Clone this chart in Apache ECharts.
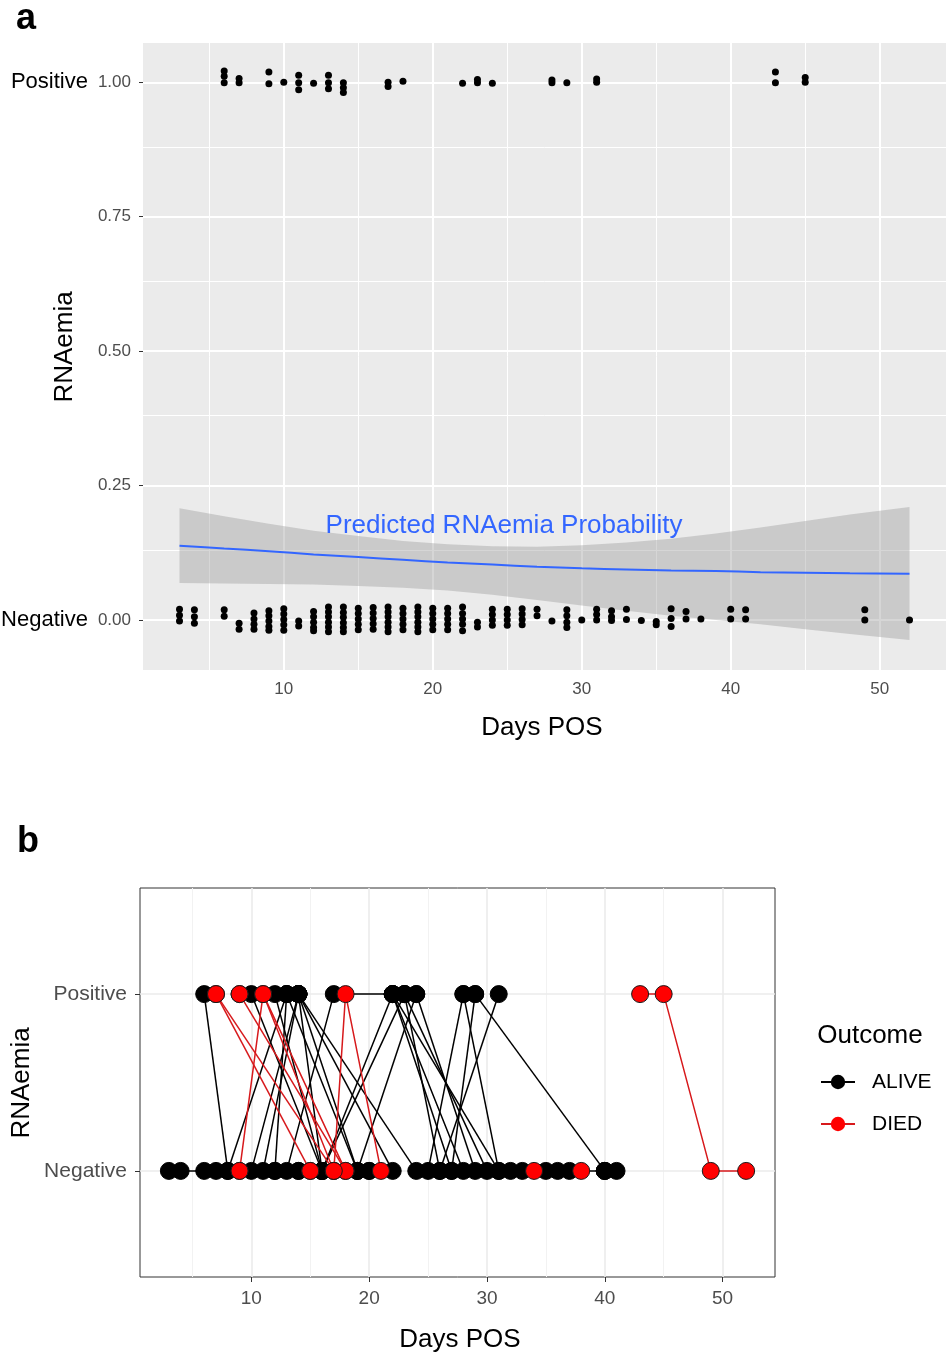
<!DOCTYPE html>
<html><head><meta charset="utf-8">
<script src="https://cdn.jsdelivr.net/npm/echarts@6/dist/echarts.min.js"></script>
<style>html,body{margin:0;padding:0;background:#fff}#c{width:949px;height:1358px}</style>
</head><body><div id="c"></div>
<script>
// ---------- Panel a: jittered observations ----------
const positiveObs = [[6,1.021],[6,1.011],[6,0.999],[7,1.007],[7,0.999],[9,1.019],[9,0.997],[10,1.0],
  [11,1.013],[11,0.999],[11,0.986],[12,0.998],[13,1.013],[13,0.999],[13,0.988],[14,0.999],[14,0.99],[14,0.981],
  [17,1.0],[17,0.992],[18,1.002],[22,0.998],[23,1.005],[23,0.999],[24,0.998],[28,1.004],[28,0.999],[29,0.999],
  [31,1.006],[31,1.0],[43,1.019],[43,0.999],[45,1.009],[45,1.0]];
const negativeObs = [
  [3,0.02],[3,0.009],[3,-0.002],[4,0.019],[4,0.006],[4,-0.006],[6,0.019],[6,0.007],[7,-0.006],[7,-0.017],
  [8,0.013],[8,0.002],[8,-0.008],[8,-0.017],[9,0.017],[9,0.008],[9,-0.002],[9,-0.012],[9,-0.019],
  [10,0.021],[10,0.011],[10,0.001],[10,-0.009],[10,-0.019],[11,-0.002],[11,-0.011],
  [12,0.016],[12,0.006],[12,-0.004],[12,-0.014],[12,-0.02],
  [13,0.024],[13,0.015],[13,0.006],[13,-0.004],[13,-0.013],[13,-0.022],
  [14,0.024],[14,0.014],[14,0.005],[14,-0.005],[14,-0.014],[14,-0.022],
  [15,0.022],[15,0.012],[15,0.002],[15,-0.008],[15,-0.018],
  [16,0.023],[16,0.013],[16,0.003],[16,-0.007],[16,-0.017],
  [17,0.024],[17,0.015],[17,0.006],[17,-0.004],[17,-0.013],[17,-0.022],
  [18,0.022],[18,0.012],[18,0.002],[18,-0.008],[18,-0.018],
  [19,0.024],[19,0.015],[19,0.006],[19,-0.004],[19,-0.013],[19,-0.022],
  [20,0.022],[20,0.012],[20,0.002],[20,-0.008],[20,-0.018],
  [21,0.022],[21,0.012],[21,0.002],[21,-0.008],[21,-0.018],
  [22,0.024],[22,0.012],[22,0.002],[22,-0.008],[22,-0.02],[23,-0.004],[23,-0.013],
  [24,0.02],[24,0.01],[24,0.0],[24,-0.01],[25,0.02],[25,0.01],[25,0.0],[25,-0.01],
  [26,0.021],[26,0.011],[26,0.001],[26,-0.009],[27,0.02],[27,0.008],[28,-0.002],
  [29,0.019],[29,0.008],[29,-0.004],[29,-0.014],[30,0.0],[31,0.02],[31,0.01],[31,0.0],
  [32,0.017],[32,0.006],[32,-0.001],[33,0.02],[33,0.001],[34,-0.001],[35,-0.003],[35,-0.009],
  [36,0.021],[36,0.003],[36,-0.012],[37,0.016],[37,0.002],[38,0.002],[40,0.02],[40,0.002],
  [41,0.019],[41,0.002],[49,0.019],[49,0.0],[52,0.0]];

// ---------- Panel a: logistic fit and confidence band ----------
const fitDays   = [3, 6, 9, 12, 15, 18, 21, 24, 27, 30, 33, 36, 39, 42, 45, 48, 52];
const fitProb   = [0.138, 0.133, 0.128, 0.122, 0.117, 0.112, 0.107, 0.103, 0.099, 0.096, 0.094, 0.092, 0.091, 0.089, 0.088, 0.087, 0.086];
const bandUpper = [0.208, 0.193, 0.179, 0.166, 0.156, 0.147, 0.141, 0.137, 0.136, 0.139, 0.144, 0.151, 0.161, 0.172, 0.184, 0.196, 0.210];
const bandLower = [0.069, 0.068, 0.067, 0.066, 0.063, 0.060, 0.055, 0.047, 0.037, 0.027, 0.017, 0.008, 0.000, -0.008, -0.017, -0.026, -0.037];

const xTicks = [10, 20, 30, 40, 50];
const xMinor = [5, 15, 25, 35, 45];
const yTicksA = [0, 0.25, 0.5, 0.75, 1.0];
const yMinorA = [0.125, 0.375, 0.625, 0.875];
const stateLabels = ['Negative', 'Positive'];

// ---------- Panel b: patient trajectories (N = Negative, P = Positive, number = day) ----------
const aliveTraj = [
  ['N3','N6'], ['N4'], ['P6','N8'], ['N7'], ['N8','P13'], ['N10','P14'], ['N11','P14'], ['N12','P13'],
  ['P10','N16'], ['P12','N16'], ['P13','N19'], ['P14','N16'], ['P14','N19'], ['P14','N22'], ['P14','N24'],
  ['N13','P17','P22','N28'], ['N16','P22'], ['N16','P23'], ['N19','P24'], ['P22','N27'], ['P23','N26'],
  ['P24','N29'], ['N25','P28'], ['N27','P29'], ['N26','P31'], ['P28','N31'], ['P29','N40'], ['P23','N30'],
  ['N20'], ['N37','N40'], ['N40','N41'], ['N14','N20'], ['N32','N33'], ['N35','N36'], ['N12','N14'], ['P22','N31']
];
const diedTraj = [
  ['P7','N15'], ['P7','N17'], ['N9','P11','N18'], ['N9','N15'], ['P9','P11','N17'], ['P9','N18'],
  ['N17','P18','N21'], ['N34','N38'], ['P43','P45','N49','N52']
];

// ---------- build ----------
const FONT = 'Liberation Sans, Arial, Helvetica, sans-serif';
const parse = s => [parseInt(s.slice(1), 10), s[0] === 'P' ? 2 : 1];

function gridLineSeries(xi, yi, vx, vy, color, width) {
  const d = [];
  vx.forEach(v => d.push({ xAxis: v }));
  vy.forEach(v => d.push({ yAxis: v }));
  return {
    type: 'line', xAxisIndex: xi, yAxisIndex: yi, data: [], z: 1, silent: true,
    markLine: { z: 1, silent: true, animation: false, symbol: ['none', 'none'], label: { show: false },
      lineStyle: { color: color, width: width, type: 'solid' }, emphasis: { disabled: true }, data: d }
  };
}

const series = [];
// panel a grid
series.push(gridLineSeries(0, 0, xMinor, yMinorA, '#FFFFFF', 1));
series.push(gridLineSeries(0, 0, xTicks, yTicksA, '#FFFFFF', 2));
// confidence band as a polygon through the axis scales
series.push({ type: 'custom', xAxisIndex: 0, yAxisIndex: 0, z: 2, silent: true,
  data: [[fitDays[0], bandLower[0]]],
  renderItem: (params, api) => {
    const pts = [];
    for (let i = 0; i < fitDays.length; i++) pts.push(api.coord([fitDays[i], bandUpper[i]]));
    for (let i = fitDays.length - 1; i >= 0; i--) pts.push(api.coord([fitDays[i], bandLower[i]]));
    return { type: 'polygon', shape: { points: pts }, style: { fill: 'rgba(153,153,153,0.4)' } };
  } });
series.push({ type: 'line', xAxisIndex: 0, yAxisIndex: 0, smooth: 0.3, symbol: 'none', z: 3, silent: true,
  lineStyle: { color: '#3366FF', width: 2 }, data: fitDays.map((d, i) => [d, fitProb[i]]) });
series.push({ type: 'scatter', xAxisIndex: 0, yAxisIndex: 0, symbolSize: 7, z: 4, silent: true,
  itemStyle: { color: '#000', opacity: 1 }, data: positiveObs.concat(negativeObs) });

// panel b grid
series.push(gridLineSeries(1, 1, xMinor, [], '#F2F2F2', 1));
series.push(gridLineSeries(1, 1, xTicks, [1, 2], '#EBEBEB', 1.6));
// trajectories
aliveTraj.forEach(t => series.push({ type: 'line', name: 'ALIVE', xAxisIndex: 1, yAxisIndex: 1, data: t.map(parse),
  symbol: 'circle', showSymbol: false, z: 2, silent: true, lineStyle: { color: '#000', width: 1.5 },
  itemStyle: { color: '#000' }, emphasis: { disabled: true } }));
diedTraj.forEach(t => series.push({ type: 'line', name: 'DIED', xAxisIndex: 1, yAxisIndex: 1, data: t.map(parse),
  symbol: 'circle', showSymbol: false, z: 2, silent: true, lineStyle: { color: '#D7191C', width: 1.5 },
  itemStyle: { color: '#FF0000' }, emphasis: { disabled: true } }));
const alivePts = [], diedPts = [];
aliveTraj.forEach(t => t.forEach(s => alivePts.push(parse(s))));
diedTraj.forEach(t => t.forEach(s => diedPts.push(parse(s))));
series.push({ type: 'scatter', xAxisIndex: 1, yAxisIndex: 1, symbolSize: 17, z: 3, silent: true,
  itemStyle: { color: '#000', borderColor: '#000', borderWidth: 1, opacity: 1 }, data: alivePts });
series.push({ type: 'scatter', xAxisIndex: 1, yAxisIndex: 1, symbolSize: 17, z: 4, silent: true,
  itemStyle: { color: '#FF0000', borderColor: '#1a1a1a', borderWidth: 1, opacity: 1 }, data: diedPts });

const tickStyle = { lineStyle: { color: '#333', width: 1 } };
const option = {
  animation: false,
  grid: [
    { left: 143, top: 43, width: 803, height: 627, show: true, backgroundColor: '#EBEBEB', borderWidth: 0,
      containLabel: false, outerBoundsMode: 'none' },
    { left: 140, top: 888, width: 635, height: 389, show: true, backgroundColor: '#FFFFFF', borderColor: '#333', borderWidth: 1,
      containLabel: false, outerBoundsMode: 'none' }
  ],
  xAxis: [
    { type: 'value', gridIndex: 0, min: 0.55, max: 54.45, axisLine: { show: false }, splitLine: { show: false },
      axisTick: Object.assign({ show: true, length: 4, customValues: xTicks }, tickStyle),
      axisLabel: { customValues: xTicks, color: '#4D4D4D', fontSize: 17, fontFamily: FONT, margin: 11 } },
    { type: 'value', gridIndex: 1, min: 0.55, max: 54.45, axisLine: { show: false }, splitLine: { show: false },
      axisTick: Object.assign({ show: true, length: 5, customValues: xTicks }, tickStyle),
      axisLabel: { customValues: xTicks, color: '#4D4D4D', fontSize: 19, fontFamily: FONT, margin: 12 } }
  ],
  yAxis: [
    { type: 'value', gridIndex: 0, min: -0.093, max: 1.073, axisLine: { show: false }, splitLine: { show: false },
      axisTick: Object.assign({ show: true, length: 4, customValues: yTicksA }, tickStyle),
      axisLabel: { customValues: yTicksA, margin: 12, fontFamily: FONT,
        formatter: v => {
          const t = '{t|' + v.toFixed(2) + '}';
          if (v === 1) return '{n|' + stateLabels[1] + '}' + t;
          if (v === 0) return '{n|' + stateLabels[0] + '}' + t;
          return t;
        },
        rich: { n: { fontSize: 22, color: '#000', fontFamily: FONT, padding: [0, 10, 0, 0] },
                t: { fontSize: 17, color: '#4D4D4D', fontFamily: FONT } } } },
    { type: 'value', gridIndex: 1, min: 0.4, max: 2.6, axisLine: { show: false }, splitLine: { show: false },
      axisTick: Object.assign({ show: true, length: 5, customValues: [1, 2] }, tickStyle),
      axisLabel: { customValues: [1, 2], formatter: v => stateLabels[Math.round(v) - 1], color: '#4D4D4D',
        fontSize: 21, fontFamily: FONT, margin: 13 } }
  ],
  legend: {
    data: ['ALIVE', 'DIED'], orient: 'vertical', left: 820, top: 1070, padding: 0, itemWidth: 34, itemHeight: 18,
    itemGap: 18, selectedMode: false, textStyle: { fontSize: 21, fontFamily: FONT, color: '#000', lineHeight: 24, padding: [0, 0, 0, 12] }
  },
  graphic: [
    { type: 'text', left: 16, top: 1, style: { text: 'a', font: 'bold 36px ' + FONT, fill: '#000' } },
    { type: 'text', left: 17, top: 824, style: { text: 'b', font: 'bold 36px ' + FONT, fill: '#000' } },
    { type: 'text', x: 542, y: 728, style: { text: 'Days POS', font: '26px ' + FONT, fill: '#000', align: 'center', verticalAlign: 'middle' } },
    { type: 'text', x: 460, y: 1340, style: { text: 'Days POS', font: '26px ' + FONT, fill: '#000', align: 'center', verticalAlign: 'middle' } },
    { type: 'text', x: 65, y: 347, rotation: Math.PI / 2, style: { text: 'RNAemia', font: '26px ' + FONT, fill: '#000', align: 'center', verticalAlign: 'middle' } },
    { type: 'text', x: 22, y: 1083, rotation: Math.PI / 2, style: { text: 'RNAemia', font: '26px ' + FONT, fill: '#000', align: 'center', verticalAlign: 'middle' } },
    { type: 'text', x: 870, y: 1036, style: { text: 'Outcome', font: '26px ' + FONT, fill: '#000', align: 'center', verticalAlign: 'middle' } },
    { type: 'text', x: 504, y: 526, z: 10, style: { text: 'Predicted RNAemia Probability', font: '26px ' + FONT, fill: '#3366FF', align: 'center', verticalAlign: 'middle' } }
  ],
  series: series
};
const chart = echarts.init(document.getElementById('c'), null, { renderer: 'canvas' });
chart.setOption(option);
</script></body></html>
